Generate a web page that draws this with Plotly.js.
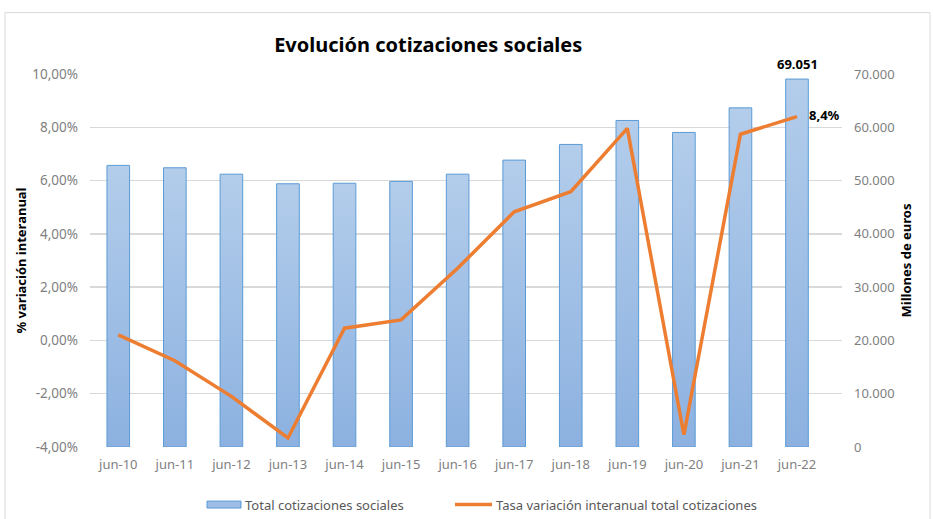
<!DOCTYPE html>
<html>
<head>
<meta charset="utf-8">
<script src="https://cdn.plot.ly/plotly-3.0.1.min.js"></script>
<style>html,body{margin:0;padding:0;background:#fff}#chart{width:933px;height:519px}</style>
</head>
<body>
<div id="chart"></div>
<script>
const categories = ["jun-10","jun-11","jun-12","jun-13","jun-14","jun-15","jun-16","jun-17","jun-18","jun-19","jun-20","jun-21","jun-22"];
const totalCotizaciones = [52850, 52400, 51200, 49400, 49500, 49850, 51200, 53840, 56780, 61280, 59030, 63650, 69051];
const tasaVariacion = [0.21, -0.76, -2.10, -3.66, 0.46, 0.77, 2.71, 4.83, 5.58, 7.96, -3.54, 7.74, 8.4];
const leftTicks = [-4, -2, 0, 2, 4, 6, 8, 10];
const leftTickText = leftTicks.map(v => v.toFixed(2).replace('.', ',') + '%');
const rightTicks = [0, 10000, 20000, 30000, 40000, 50000, 60000, 70000];
const rightTickText = rightTicks.map(v => v === 0 ? '0' : (v / 1000) + '.000');
const seriesNames = ['Total cotizaciones sociales', 'Tasa variación interanual total cotizaciones'];

const FONT = "'Noto Sans', 'DejaVu Sans', sans-serif";
const BOLD = "'Noto Sans', 'DejaVu Sans', sans-serif";
const last = categories.length - 1;
const BAR_FILL = '#9dbde6', BAR_LINE = '#5b9bd5', LINE_COLOR = '#ed7d31';

const traces = [
  {
    type: 'bar', name: seriesNames[0],
    x: categories, y: totalCotizaciones, yaxis: 'y',
    marker: {color: BAR_FILL, line: {color: BAR_LINE, width: 1}}
  },
  {
    type: 'scatter', mode: 'lines', name: seriesNames[1],
    x: categories, y: tasaVariacion, yaxis: 'y2',
    line: {color: LINE_COLOR, width: 3.5}
  }
];

// pixel helpers for the plot area (l=90, width 752; top 73.5, height 373.8)
const px = v => (v - 90) / 752;
const py = v => (447.3 - v) / 373.8;

const layout = {
  width: 933, height: 519,
  margin: {l: 90, r: 91, t: 73.5, b: 71.7},
  paper_bgcolor: '#ffffff', plot_bgcolor: '#ffffff',
  showlegend: false,
  bargap: 0.6,
  title: {text: 'Evolución cotizaciones sociales', x: 0.459, xanchor: 'center', y: 0.913, yanchor: 'middle',
          font: {family: BOLD, size: 20, color: '#000', weight: 'bold'}},
  xaxis: {
    type: 'category', showgrid: false, zeroline: false, showline: false,
    tickfont: {family: FONT, size: 13, color: '#7f7f7f'}, ticks: '', ticklabelstandoff: 8
  },
  yaxis: {
    range: [0, 70000], tickvals: rightTicks, ticktext: rightTickText, side: 'right',
    showgrid: true, gridcolor: '#d9d9d9', gridwidth: 1.3, zeroline: false, showline: false,
    tickfont: {family: FONT, size: 13, color: '#7f7f7f'}, ticks: '', ticklabelstandoff: 11,
    title: {text: 'Millones de euros', font: {family: BOLD, size: 13, color: '#000', weight: 'bold'}, standoff: 8}
  },
  yaxis2: {
    range: [-4, 10], tickvals: leftTicks, ticktext: leftTickText, overlaying: 'y', side: 'left',
    showgrid: false, zeroline: false, showline: false,
    tickfont: {family: FONT, size: 13.5, color: '#7f7f7f'}, ticks: '', ticklabelstandoff: 11,
    title: {text: '% variación interanual', font: {family: BOLD, size: 13, color: '#000', weight: 'bold'}, standoff: 2}
  },
  annotations: [
    {x: categories[last], y: totalCotizaciones[last], xref: 'x', yref: 'y', text: '69.051',
     showarrow: false, yanchor: 'bottom', yshift: 4, font: {family: BOLD, size: 13, color: '#000', weight: 'bold'}},
    {x: categories[last], y: tasaVariacion[last], xref: 'x', yref: 'y2', text: '8,4%',
     showarrow: false, xanchor: 'left', xshift: 10, yshift: 2, font: {family: BOLD, size: 13, color: '#000', weight: 'bold'}},
    // custom legend labels
    {xref: 'paper', yref: 'paper', x: px(243), y: py(505), xanchor: 'left', yanchor: 'middle', showarrow: false,
     text: seriesNames[0], font: {family: FONT, size: 13, color: '#595959'}},
    {xref: 'paper', yref: 'paper', x: px(494), y: py(505), xanchor: 'left', yanchor: 'middle', showarrow: false,
     text: seriesNames[1], font: {family: FONT, size: 13, color: '#595959'}}
  ],
  shapes: [
    {type: 'rect', xref: 'paper', yref: 'paper', x0: px(5), x1: px(930), y0: py(530), y1: py(12),
     line: {color: '#d9d9d9', width: 1}, fillcolor: 'rgba(0,0,0,0)', layer: 'below'},
    // custom legend swatches
    {type: 'rect', xref: 'paper', yref: 'paper', x0: px(207), x1: px(241), y0: py(508.5), y1: py(501.5),
     line: {color: BAR_LINE, width: 1}, fillcolor: BAR_FILL},
    {type: 'line', xref: 'paper', yref: 'paper', x0: px(455), x1: px(492), y0: py(505), y1: py(505),
     line: {color: LINE_COLOR, width: 3.5}}
  ]
};

Plotly.newPlot('chart', traces, layout, {displayModeBar: false, staticPlot: true}).then(gd => {
  // vertical gradient fill for the bars (light top, darker bottom)
  const svg = gd.querySelector('svg.main-svg');
  const ns = 'http://www.w3.org/2000/svg';
  let defs = svg.querySelector('defs');
  if (!defs) { defs = document.createElementNS(ns, 'defs'); svg.insertBefore(defs, svg.firstChild); }
  const grad = document.createElementNS(ns, 'linearGradient');
  grad.setAttribute('id', 'barGrad');
  grad.setAttribute('x1', '0'); grad.setAttribute('y1', '0');
  grad.setAttribute('x2', '0'); grad.setAttribute('y2', '1');
  [['0', '#b3cdeb'], ['1', '#8cb1e0']].forEach(([o, c]) => {
    const s = document.createElementNS(ns, 'stop');
    s.setAttribute('offset', o); s.setAttribute('stop-color', c);
    grad.appendChild(s);
  });
  defs.appendChild(grad);
  gd.querySelectorAll('.barlayer .point path').forEach(p => { p.style.fill = 'url(#barGrad)'; });
});
</script>
</body>
</html>
